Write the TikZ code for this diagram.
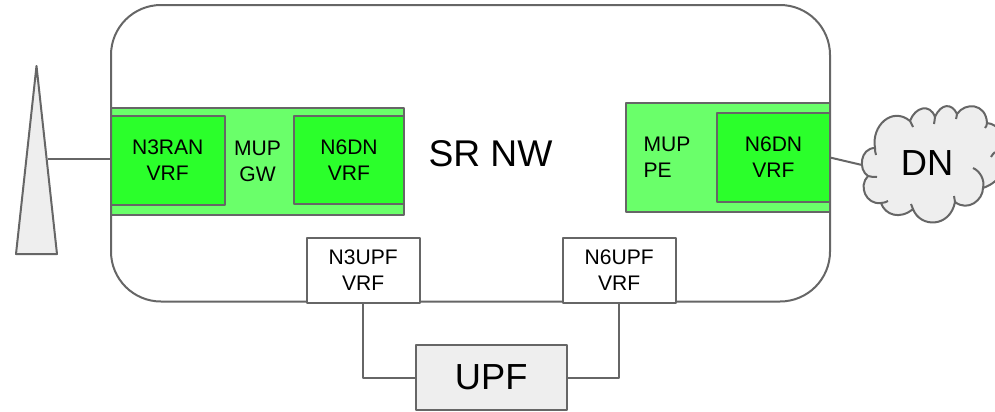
\documentclass[tikz,border=0pt]{standalone}
\usepackage{fontspec}
\setmainfont{Liberation Sans}
\tikzset{
  ln/.style={draw=lineg,line width=1.5pt,line join=round},
  pbox/.style={ln,rectangle,outer sep=0pt,inner sep=0pt,align=center,text=black,font=\smalltxt},
  lite/.style={pbox,fill=litegreen},
  deep/.style={pbox,fill=deepgreen},
  plain/.style={pbox,fill=white},
  grey/.style={pbox,fill=greyfill,font=\bigtxt},
  lbl/.style={inner sep=0pt,outer sep=0pt,font=\smalltxt,align=center,text=black},
  biglbl/.style={inner sep=0pt,outer sep=0pt,font=\bigtxt,text=black}
}
\definecolor{lineg}{HTML}{666666}
\definecolor{litegreen}{HTML}{6AFF6A}
\definecolor{deepgreen}{HTML}{2BFF2B}
\definecolor{greyfill}{HTML}{EEEEEE}
\newcommand{\smalltxt}{\fontsize{15.8}{19.6}\selectfont}
\newcommand{\bigtxt}{\fontsize{27.2}{32}\selectfont}
% \pxbox[style]{name}{x0}{y0}{x1}{y1}{text}
\newcommand{\pxbox}[7][]{%
  \pgfmathsetmacro{\pw}{(#5-#3)*0.75}%
  \pgfmathsetmacro{\ph}{(#6-#4)*0.75}%
  \node[#1,minimum width=\pw pt,minimum height=\ph pt] (#2) at ({(#3+#5)/2},{(#4+#6)/2}) {#7};}
\begin{document}
\begin{tikzpicture}[x=0.75pt,y=-0.75pt]
\useasboundingbox (0,0) rectangle (995,411);
% MUP GW
\pxbox[lite]{gw}{111}{108}{404}{214.5}{}
\pxbox[deep]{n3ran}{111}{116}{224.5}{205}{N3RAN\\VRF}
\pxbox[deep]{n6dna}{294}{115.5}{404}{204}{N6DN\\VRF}
\node[lbl] (gwl) at (257.5,161) {MUP\\GW};
% MUP PE
\pxbox[lite]{pe}{626}{103.3}{830}{211.7}{}
\pxbox[deep]{n6dnb}{717}{113}{830}{202}{N6DN\\VRF}
\node[lbl,align=left,anchor=west] (pel) at (643.5,157.5) {MUP\\PE};
% SR network outline
\draw[ln,rounded corners=37.5pt] (111,5) rectangle (830,301.5);
\node[biglbl,font=\fontsize{27.9}{32}\selectfont] (srnw) at (490.5,154) {SR NW};
% Antenna
\coordinate (ant) at (47.5,159.3);
\draw[ln,fill=greyfill] (36.5,66) -- (57,254) -- (16,254) -- cycle;
\draw[ln] (ant) -- (n3ran.west |- ant);
% UPF parts
\pxbox[plain]{n3upf}{307}{238.3}{419.5}{302.7}{N3UPF\\VRF}
\pxbox[plain]{n6upf}{562.5}{238.3}{676}{302.7}{N6UPF\\VRF}
\pxbox[grey]{upf}{415.5}{345}{567}{410}{UPF}
\draw[ln] (n3upf.south) |- (upf.west);
\draw[ln] (n6upf.south) |- (upf.east);
% DN cloud
\begin{scope}
\clip (0,0) rectangle (995,411);
\draw[ln,fill=greyfill]
  (875,148)
  .. controls (871,126) and (892,106) .. (910,121)
  .. controls (915,107) and (930,103) .. (935,117)
  .. controls (941,103) and (952,103) .. (957,114)
  .. controls (965,102) and (986,103) .. (987,123)
  .. controls (1010,125) and (1020,175) .. (983,188)
  .. controls (983,200) and (968,212) .. (955,202)
  .. controls (950,228) and (920,228) .. (913,209)
  .. controls (900,220) and (885,215) .. (881,203)
  .. controls (866,205) and (858,186) .. (868,176)
  .. controls (858,170) and (860,148) .. (875,148)
  -- cycle;
\draw[ln] (868,176) .. controls (871,177) and (874,177) .. (877,177);
\draw[ln] (875,148) .. controls (875,150) and (875,152) .. (876,155);
\draw[ln] (910,121) .. controls (911,123) and (912,125) .. (913,127);
\draw[ln] (935,117) .. controls (935,120) and (934,122) .. (934,124);
\draw[ln] (957,114) .. controls (957,116) and (956,118) .. (956,119);
\draw[ln] (987,123) .. controls (987,125) and (986,127) .. (985,128);
\draw[ln] (973,168) .. controls (980,171) and (985,180) .. (983,188);
\draw[ln] (955,202) .. controls (955,200) and (954,198) .. (954,196);
\draw[ln] (913,209) .. controls (912,207) and (912,206) .. (911,204);
\draw[ln] (881,203) .. controls (884,203) and (886,202) .. (888,201);
\draw[ln] (995,152) .. controls (993,154) and (992,155) .. (991,157);
\end{scope}
\node[biglbl] (dn) at (927,163) {DN};
\coordinate (dnl) at (862,165);
\draw[ln] (n6dnb.east |- 0,157.5) -- (dnl);
\end{tikzpicture}
\end{document}
